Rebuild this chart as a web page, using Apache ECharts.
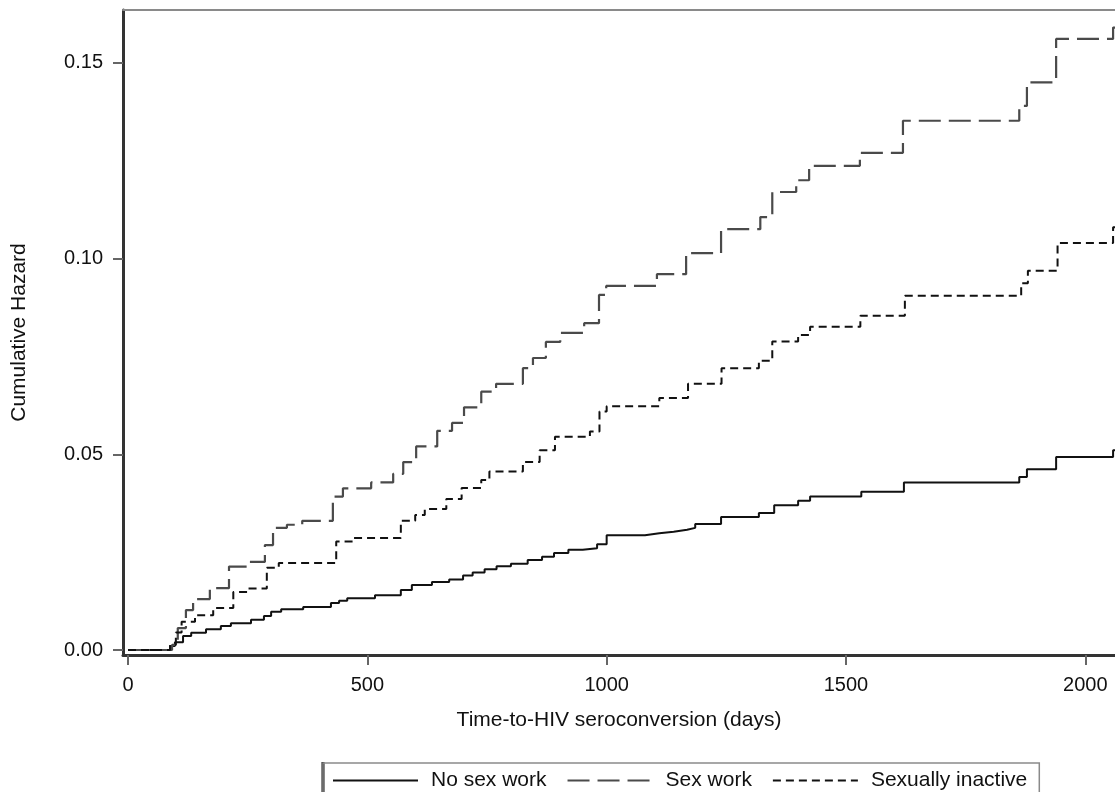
<!DOCTYPE html>
<html>
<head>
<meta charset="utf-8">
<title>Cumulative Hazard</title>
<script src="https://cdn.jsdelivr.net/npm/echarts@6/dist/echarts.min.js"></script>
<style>
  html, body { margin: 0; padding: 0; background: #fff; }
  #chart { width: 1115px; height: 792px; }
</style>
</head>
<body>
<div id="chart"></div>
<script>
// tick labels
const xTicks = [0, 500, 1000, 1500, 2000]
const yTicks = [0, 0.05, 0.10, 0.15]

// No sex work (step points: day, cumulative hazard)
const noWorkDays = [0, 88, 98, 115, 132, 163, 194, 215, 257, 284, 299, 320, 366, 424, 441, 458, 516, 570, 593, 635, 671,
  700, 720, 745, 770, 800, 835, 865, 890, 920, 950, 980, 1000, 1080, 1110, 1140, 1168, 1185, 1239, 1318, 1350, 1400, 1425,
  1532, 1621, 1862, 1878, 1939, 2058, 2080]
const noWorkHaz = [0, 0.001, 0.002, 0.0036, 0.0044, 0.0053, 0.0061, 0.0068, 0.0077, 0.0087, 0.0098, 0.0104, 0.011, 0.012, 0.0126, 0.0132, 0.014, 0.0153, 0.0166, 0.0174, 0.018,
  0.019, 0.0198, 0.0206, 0.0214, 0.022, 0.023, 0.0238, 0.0248, 0.0256, 0.026, 0.027, 0.0293, 0.0298, 0.0302, 0.0307, 0.0312, 0.0322, 0.034, 0.035, 0.037, 0.0381, 0.0392,
  0.0404, 0.0428, 0.0442, 0.0462, 0.0493, 0.051, 0.051]

// Sex work
const sexWorkDays = [0, 92, 104, 121, 136, 171, 211, 253, 286, 303, 332, 364, 428, 449, 508, 554, 575, 602, 646, 677, 702, 738,
  769, 825, 846, 873, 903, 953, 984, 999, 1105, 1166, 1239, 1321, 1346, 1396, 1423, 1529, 1619, 1862, 1878, 1939, 2058, 2080]
const sexWorkHaz = [0, 0.0013, 0.0056, 0.0102, 0.013, 0.0158, 0.0213, 0.0225, 0.0268, 0.0312, 0.032, 0.033, 0.0392, 0.0413, 0.0428, 0.045, 0.048, 0.052, 0.056, 0.058, 0.062, 0.066,
  0.068, 0.072, 0.0746, 0.0787, 0.081, 0.0835, 0.0907, 0.093, 0.096, 0.1014, 0.1075, 0.1106, 0.117, 0.120, 0.1237, 0.127, 0.1352, 0.139, 0.145, 0.1561, 0.159, 0.159]

// Sexually inactive
const inactiveDays = [0, 88, 100, 112, 140, 178, 220, 250, 290, 315, 435, 470, 570, 600, 620, 665, 697, 738, 755, 825, 860, 892,
  965, 985, 1000, 1110, 1170, 1240, 1318, 1346, 1400, 1425, 1530, 1623, 1866, 1880, 1942, 2058, 2080]
const inactiveHaz = [0, 0.0013, 0.0045, 0.0072, 0.0089, 0.0107, 0.0148, 0.0157, 0.021, 0.0222, 0.0277, 0.0286, 0.033, 0.0345, 0.036, 0.0386, 0.0414, 0.0434, 0.0456, 0.048, 0.051, 0.0545,
  0.0558, 0.0609, 0.0623, 0.0644, 0.068, 0.072, 0.0739, 0.0788, 0.0805, 0.0826, 0.0854, 0.0905, 0.0937, 0.0969, 0.104, 0.108, 0.108]

const font = 'Liberation Sans, Arial, sans-serif'

function zip(days, haz) {
  return days.map((d, i) => [d, haz[i]])
}

const chart = echarts.init(document.getElementById('chart'))

const option = {
  animation: false,
  backgroundColor: '#fff',
  textStyle: { fontFamily: font },
  grid: { left: 123, top: 10, right: 0, bottom: 137 },
  xAxis: [
    {
      type: 'value',
      min: -10.45,
      max: 2062,
      name: 'Time-to-HIV seroconversion (days)',
      nameLocation: 'middle',
      nameGap: 55,
      nameTextStyle: { fontSize: 21, color: '#111', fontFamily: font },
      axisLine: { show: true, onZero: false, lineStyle: { color: '#333', width: 3 } },
      axisTick: { show: true, customValues: xTicks, length: 10, lineStyle: { color: '#666', width: 2 } },
      axisLabel: { customValues: xTicks, fontSize: 20, color: '#111', margin: 20, fontFamily: font, formatter: v => String(v) },
      splitLine: { show: false }
    },
    {
      // top frame line only
      type: 'value',
      position: 'top',
      min: -10.45,
      max: 2062,
      axisLine: { show: true, onZero: false, lineStyle: { color: '#8a8a8a', width: 2 } },
      axisTick: { show: false },
      axisLabel: { show: false },
      splitLine: { show: false }
    }
  ],
  yAxis: {
    type: 'value',
    min: -0.00128,
    max: 0.1635,
    name: 'Cumulative Hazard',
    nameLocation: 'middle',
    nameGap: 93,
    nameTextStyle: { fontSize: 21, color: '#111', fontFamily: font },
    axisLine: { show: true, onZero: false, lineStyle: { color: '#333', width: 3 } },
    axisTick: { show: true, customValues: yTicks, length: 10, lineStyle: { color: '#666', width: 2 } },
    axisLabel: {
      customValues: yTicks,
      fontSize: 20,
      color: '#111',
      margin: 20,
      fontFamily: font,
      formatter: v => v.toFixed(2)
    },
    splitLine: { show: false }
  },
  legend: {
    left: 323,
    top: 763,
    padding: [7, 12, 7, 9],
    itemWidth: 85,
    itemHeight: 14,
    itemGap: 20,
    borderColor: '#8a8a8a',
    borderWidth: 1.5,
    itemStyle: { opacity: 0 },
    textStyle: { fontSize: 21, color: '#111', fontFamily: font, padding: [0, 0, 0, 8] },
    data: ['No sex work', 'Sex work', 'Sexually inactive']
  },
  // heavy left edge of the legend box
  graphic: [
    {
      type: 'line',
      shape: { x1: 323, y1: 762, x2: 323, y2: 792 },
      style: { stroke: '#111', lineWidth: 3 }
    }
  ],
  series: [
    {
      name: 'No sex work',
      type: 'line',
      step: 'end',
      symbol: 'none',
      clip: true,
      data: zip(noWorkDays, noWorkHaz),
      lineStyle: { color: '#111', width: 2, type: 'solid' },
      itemStyle: { color: '#111' }
    },
    {
      name: 'Sex work',
      type: 'line',
      step: 'end',
      symbol: 'none',
      clip: true,
      data: zip(sexWorkDays, sexWorkHaz),
      lineStyle: { color: '#4a4a4a', width: 2.2, type: [22, 8] },
      itemStyle: { color: '#4a4a4a' }
    },
    {
      name: 'Sexually inactive',
      type: 'line',
      step: 'end',
      symbol: 'none',
      clip: true,
      data: zip(inactiveDays, inactiveHaz),
      lineStyle: { color: '#111', width: 2, type: [8, 5] },
      itemStyle: { color: '#111' }
    }
  ]
}

chart.setOption(option)
</script>
</body>
</html>
